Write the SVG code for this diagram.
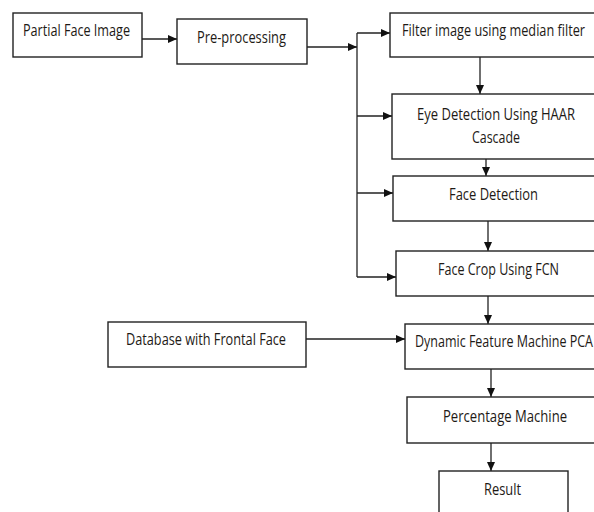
<svg xmlns="http://www.w3.org/2000/svg" width="594" height="512" viewBox="0 0 594 512">
<defs>
<marker id="ah" markerUnits="userSpaceOnUse" markerWidth="10" markerHeight="10" refX="9" refY="4" orient="auto">
<path d="M0,0 L9,4 L0,8 Z" fill="#111"/>
</marker>
<style>
.box{fill:#fff;stroke:#222;stroke-width:1.4}
.t{font-family:"Open Sans","Liberation Sans",sans-serif;font-size:16px;fill:#1e1a16}
.c{fill:none;stroke:#222;stroke-width:1.3}
</style>
</defs>
<rect width="594" height="512" fill="#fff"/>
<g id="connectors">
<path class="c" d="M142,39 H177" marker-end="url(#ah)"/>
<path class="c" d="M307,47 H357" marker-end="url(#ah)"/>
<path class="c" d="M357,33 V277"/>
<path class="c" d="M357,33 H390" marker-end="url(#ah)"/>
<path class="c" d="M357,116 H392" marker-end="url(#ah)"/>
<path class="c" d="M357,193 H393" marker-end="url(#ah)"/>
<path class="c" d="M357,277 H396" marker-end="url(#ah)"/>
<path class="c" d="M480,57 V94" marker-end="url(#ah)"/>
<path class="c" d="M486,159 V176" marker-end="url(#ah)"/>
<path class="c" d="M488,221 V251" marker-end="url(#ah)"/>
<path class="c" d="M488,296 V324" marker-end="url(#ah)"/>
<path class="c" d="M306,339 H405" marker-end="url(#ah)"/>
<path class="c" d="M491,369 V397" marker-end="url(#ah)"/>
<path class="c" d="M491,443 V471" marker-end="url(#ah)"/>
</g>
<g id="partial">
<rect class="box" x="13" y="13" width="129" height="44"/>
<text class="t" x="23" y="36" textLength="107" lengthAdjust="spacingAndGlyphs">Partial Face Image</text>
</g>
<g id="preprocessing">
<rect class="box" x="177" y="19" width="130" height="45"/>
<text class="t" x="197" y="43" textLength="89" lengthAdjust="spacingAndGlyphs">Pre-processing</text>
</g>
<g id="filter">
<rect class="box" x="390" y="13" width="205" height="44"/>
<text class="t" x="402" y="36" textLength="183" lengthAdjust="spacingAndGlyphs">Filter image using median filter</text>
</g>
<g id="eye">
<rect class="box" x="392" y="94" width="203" height="65"/>
<text class="t" x="417" y="120" textLength="158" lengthAdjust="spacingAndGlyphs">Eye Detection Using HAAR</text>
<text class="t" x="472" y="143" textLength="48" lengthAdjust="spacingAndGlyphs">Cascade</text>
</g>
<g id="facedetection">
<rect class="box" x="393" y="176" width="202" height="45"/>
<text class="t" x="449" y="200" textLength="89" lengthAdjust="spacingAndGlyphs">Face Detection</text>
</g>
<g id="facecrop">
<rect class="box" x="396" y="251" width="199" height="45"/>
<text class="t" x="438" y="275" textLength="121" lengthAdjust="spacingAndGlyphs">Face Crop Using FCN</text>
</g>
<g id="database">
<rect class="box" x="108" y="322" width="198" height="45"/>
<text class="t" x="126" y="345" textLength="160" lengthAdjust="spacingAndGlyphs">Database with Frontal Face</text>
</g>
<g id="dfm">
<rect class="box" x="405" y="324" width="190" height="45"/>
<text class="t" x="415" y="347" textLength="178" lengthAdjust="spacingAndGlyphs">Dynamic Feature Machine PCA</text>
</g>
<g id="percentage">
<rect class="box" x="407" y="397" width="188" height="46"/>
<text class="t" x="443" y="422" textLength="124" lengthAdjust="spacingAndGlyphs">Percentage Machine</text>
</g>
<g id="result">
<rect class="box" x="439" y="471" width="129" height="60"/>
<text class="t" x="484" y="495" textLength="37" lengthAdjust="spacingAndGlyphs">Result</text>
</g>
</svg>
